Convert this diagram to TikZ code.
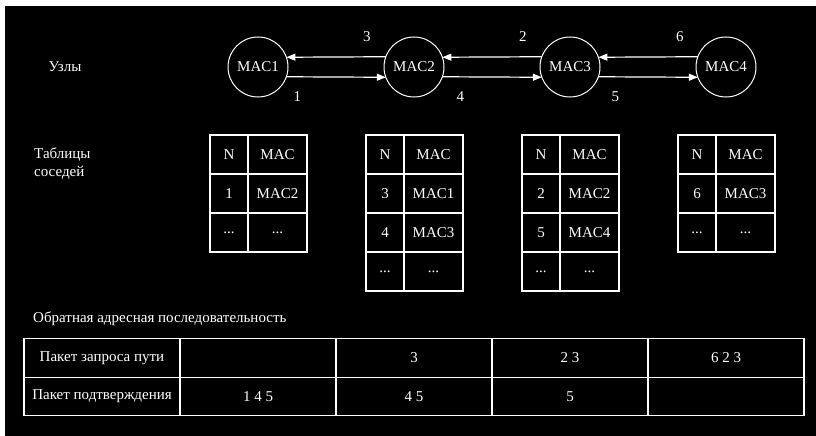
\documentclass[tikz,border=0pt]{standalone}
\usepackage{fontspec}
\setmainfont{Liberation Serif}
\usetikzlibrary{arrows.meta}
\newcommand\nbrow[5]{%
  \node[cell,minimum width=38pt] (#1a) at (#2+19,#3+19.5) {#4};
  \node[cell,minimum width=59pt] (#1b) at (#2+67.5,#3+19.5) {#5};}
\newcommand\pathrow[7]{%
  \node[bcell] (#1a) at (102,#2) {#3};
  \node[bcell] (#1b) at (258,#2) {#4};
  \node[bcell] (#1c) at (414,#2) {#5};
  \node[bcell] (#1d) at (570,#2) {#6};
  \node[bcell] (#1e) at (726,#2) {#7};}
\begin{document}
\begin{tikzpicture}[x=1pt,y=-1pt,
  txt/.style={text=white,font=\fontsize{15}{18}\selectfont,inner sep=0pt},
  mac/.style={circle,draw=white,line width=1pt,minimum size=60pt,inner sep=0pt,outer sep=0pt,txt},
  link/.style={draw=white,line width=1.2pt,-{Triangle[length=9pt,width=7pt]}},
  num/.style={txt},
  cell/.style={draw=white,line width=1.2pt,txt,minimum height=39pt,inner sep=0pt,outer sep=0pt},
  bcell/.style={draw=white,line width=1.2pt,txt,minimum height=38.5pt,minimum width=156pt,inner sep=0pt,outer sep=0pt}]
\useasboundingbox (0,0) rectangle (816,436);
\fill[white] (0,0) rectangle (816,436);
\fill[black] (5,6) rectangle (816,436);

\node[txt] (uzly) at (65,67) {Узлы};
\node[txt,anchor=west,align=left] (tabl) at (34,164) {Таблицы\\соседей};

\node[mac] (m1) at (258,67) {MAC1};
\node[mac] (m2) at (414,67) {MAC2};
\node[mac] (m3) at (570,67) {MAC3};
\node[mac] (m4) at (726,67) {MAC4};

\draw[link] (m2.160.53) -- (m1.19.47) node[num,pos=0.19,yshift=20pt] {3};
\draw[link] (m3.160.53) -- (m2.19.47) node[num,pos=0.19,yshift=20pt] {2};
\draw[link] (m4.160.53) -- (m3.19.47) node[num,pos=0.18,yshift=20pt] {6};
\draw[link] (m1.-19.47) -- (m2.-160.53) node[num,pos=0.11,yshift=-20pt] {1};
\draw[link] (m2.-19.47) -- (m3.-160.53) node[num,pos=0.18,yshift=-20pt] {4};
\draw[link] (m3.-19.47) -- (m4.-160.53) node[num,pos=0.17,yshift=-20pt] {5};

\nbrow{ta1}{210}{135}{N}{MAC}
\nbrow{ta2}{210}{174}{1}{MAC2}
\nbrow{ta3}{210}{213}{...}{...}

\nbrow{tb1}{366}{135}{N}{MAC}
\nbrow{tb2}{366}{174}{3}{MAC1}
\nbrow{tb3}{366}{213}{4}{MAC3}
\nbrow{tb4}{366}{252}{...}{...}

\nbrow{tc1}{522}{135}{N}{MAC}
\nbrow{tc2}{522}{174}{2}{MAC2}
\nbrow{tc3}{522}{213}{5}{MAC4}
\nbrow{tc4}{522}{252}{...}{...}

\nbrow{td1}{678}{135}{N}{MAC}
\nbrow{td2}{678}{174}{6}{MAC3}
\nbrow{td3}{678}{213}{...}{...}

\node[txt,anchor=west] (seq) at (33,319) {Обратная адресная последовательность};
\pathrow{pr}{358}{Пакет запроса пути}{}{3}{2 3}{6 2 3}
\pathrow{pc}{396.5}{Пакет подтверждения}{1 4 5}{4 5}{5}{}
\end{tikzpicture}
\end{document}
